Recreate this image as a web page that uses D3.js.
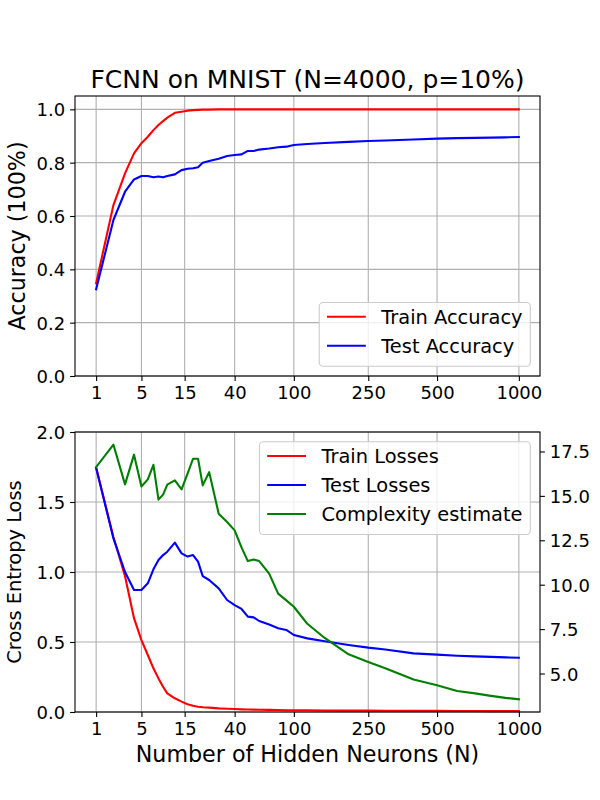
<!DOCTYPE html>
<html>

<head>
    <meta charset="UTF-8">
    <title>FCNN on MNIST</title>
    <script src="https://cdnjs.cloudflare.com/ajax/libs/d3/7.8.5/d3.min.js"></script>
    <style>
        body {
            margin: 0;
            background: #fff;
        }

        svg text {
            font-family: "DejaVu Sans", sans-serif;
            fill: #000;
        }
    </style>
</head>

<body>

    <svg id="chart"></svg>

    <script>

        // hidden neurons used in the sweep
        var neurons = [1, 2, 3, 4, 5, 6, 7, 8, 9, 10, 12, 14, 16, 18, 20, 22, 25, 30, 35, 40,
            45, 50, 55, 60, 70, 80, 90, 100, 120, 150, 200, 250, 300, 400, 500, 600, 700, 800, 900, 1000]

        var trainAcc = [0.348, 0.641, 0.760, 0.835, 0.873, 0.897, 0.922, 0.941, 0.956, 0.969,
            0.987, 0.991, 0.995, 0.997, 0.998, 0.999, 0.999, 1.0, 1.0, 1.0,
            1.0, 1.0, 1.0, 1.0, 1.0, 1.0, 1.0, 1.0, 1.0, 1.0,
            1.0, 1.0, 1.0, 1.0, 1.0, 1.0, 1.0, 1.0, 1.0, 1.0]

        var testAcc = [0.325, 0.585, 0.691, 0.737, 0.750, 0.750, 0.745, 0.748, 0.745, 0.750,
            0.756, 0.772, 0.777, 0.779, 0.783, 0.800, 0.806, 0.815, 0.825, 0.829,
            0.831, 0.844, 0.844, 0.849, 0.853, 0.858, 0.860, 0.866, 0.870, 0.874,
            0.878, 0.881, 0.883, 0.887, 0.890, 0.892, 0.893, 0.894, 0.895, 0.896]

        var trainLoss = [1.745, 1.25, 0.97, 0.67, 0.514, 0.407, 0.312, 0.24, 0.18, 0.133,
            0.098, 0.074, 0.055, 0.045, 0.038, 0.034, 0.031, 0.026, 0.023, 0.021,
            0.019, 0.018, 0.017, 0.016, 0.015, 0.014, 0.013, 0.013, 0.012, 0.011,
            0.010, 0.010, 0.009, 0.008, 0.008, 0.007, 0.007, 0.006, 0.006, 0.006]

        var testLoss = [1.745, 1.24, 1.0, 0.871, 0.871, 0.919, 1.019, 1.086, 1.121, 1.145,
            1.21, 1.133, 1.11, 1.121, 1.074, 0.971, 0.943, 0.883, 0.80, 0.764,
            0.736, 0.681, 0.676, 0.65, 0.625, 0.598, 0.586, 0.55, 0.526, 0.505,
            0.479, 0.46, 0.447, 0.419, 0.41, 0.402, 0.397, 0.394, 0.39, 0.388]

        var complexity = [16.62, 17.88, 15.65, 17.32, 15.53, 15.93, 16.75, 14.79, 15.07, 15.63,
            15.87, 15.36, 16.25, 17.09, 17.09, 15.59, 16.34, 14.0, 13.53, 13.06,
            12.1, 11.33, 11.42, 11.33, 10.62, 9.5, 9.12, 8.76, 7.8, 7.0,
            6.08, 5.65, 5.3, 4.66, 4.34, 4.02, 3.88, 3.74, 3.63, 3.55]

        var xTicks = [1, 5, 15, 40, 100, 250, 500, 1000]
        var accTicks = [0.0, 0.2, 0.4, 0.6, 0.8, 1.0]
        var lossTicks = [0.0, 0.5, 1.0, 1.5, 2.0]
        var complexityTicks = [5.0, 7.5, 10.0, 12.5, 15.0, 17.5]

        var svgWidth = 600,
            svgHeight = 800;
        var left = 75, right = 540;
        var topPanel = { top: 96, bottom: 376 };
        var botPanel = { top: 432, bottom: 712 };
        var tickSize = 4.9, tickPad = 4.9;
        var grid = "#b0b0b0";

        var svg = d3.select("#chart")
            .attr("width", svgWidth)
            .attr("height", svgHeight);

        // x axis is a fourth-root scale, padded 5% in transformed space like matplotlib
        var expo = 0.25
        var t0 = Math.pow(neurons[0], expo), t1 = Math.pow(neurons[neurons.length - 1], expo)
        var pad = (t1 - t0) * 0.05
        var x = d3.scalePow().exponent(expo)
            .domain([Math.pow(t0 - pad, 1 / expo), Math.pow(t1 + pad, 1 / expo)])
            .range([left, right]);

        var yAcc = d3.scaleLinear().domain([0, 1.05]).range([topPanel.bottom, topPanel.top]);
        var yLoss = d3.scaleLinear().domain([0, 2]).range([botPanel.bottom, botPanel.top]);
        var cExt = d3.extent(complexity), cPad = (cExt[1] - cExt[0]) * 0.05
        var yComp = d3.scaleLinear().domain([cExt[0] - cPad, cExt[1] + cPad])
            .range([botPanel.bottom, botPanel.top]);

        function drawGrid(panel, yScale, yTicks) {
            var g = svg.append("g")
            g.selectAll(".gx").data(xTicks).enter().append("line")
                .attr("x1", d => x(d)).attr("x2", d => x(d))
                .attr("y1", panel.top).attr("y2", panel.bottom)
                .attr("stroke", grid).attr("stroke-width", 1.1)
            g.selectAll(".gy").data(yTicks).enter().append("line")
                .attr("x1", left).attr("x2", right)
                .attr("y1", d => yScale(d)).attr("y2", d => yScale(d))
                .attr("stroke", grid).attr("stroke-width", 1.1)
        }

        function drawAxes(panel, yScale, yTicks) {
            var xAxis = d3.axisBottom(x).tickValues(xTicks).tickFormat(d3.format("d"))
                .tickSize(tickSize).tickPadding(tickPad)
            var gx = svg.append("g")
                .attr("transform", "translate(0," + panel.bottom + ")")
                .call(xAxis)
            var yAxis = d3.axisLeft(yScale).tickValues(yTicks).tickFormat(d3.format(".1f"))
                .tickSize(tickSize).tickPadding(tickPad)
            var gy = svg.append("g")
                .attr("transform", "translate(" + left + ",0)")
                .call(yAxis)
            ;[gx, gy].forEach(function (g) {
                g.select(".domain").remove()
                g.selectAll(".tick line").attr("stroke", "#000").attr("stroke-width", 1.1)
                g.selectAll(".tick text").attr("font-size", "18px")
                    .style("font-family", "'DejaVu Sans', sans-serif")
            })
            gx.selectAll(".tick text").attr("dy", "0.76em")
            gy.selectAll(".tick text").attr("dy", "0.36em")
        }

        function drawFrame(panel) {
            svg.append("rect")
                .attr("x", left).attr("y", panel.top)
                .attr("width", right - left).attr("height", panel.bottom - panel.top)
                .attr("fill", "none").attr("stroke", "#000").attr("stroke-width", 1.1)
        }

        function drawLine(values, yScale, color) {
            var line = d3.line()
                .x(function (d, i) { return x(neurons[i]) })
                .y(function (d) { return yScale(d) })
            svg.append("path")
                .datum(values)
                .attr("fill", "none")
                .attr("stroke", color)
                .attr("stroke-width", 2.1)
                .attr("stroke-linejoin", "round")
                .attr("stroke-linecap", "square")
                .attr("d", line)
        }

        // matplotlib-like legend anchored at a corner of the axes
        function drawLegend(items, anchorRight, anchorY, fromTop) {
            var fs = 19.4, bp = 0.4 * fs, hl = 2 * fs, htp = 0.8 * fs, ls = 0.5 * fs, rowH = 19.3
            var g = svg.append("g")
            var box = g.append("rect")
            var texts = g.selectAll("text").data(items).enter().append("text")
                .attr("font-size", fs + "px")
                .text(d => d.label)
            var tw = d3.max(texts.nodes(), n => n.getComputedTextLength())
            var w = 2 * bp + hl + htp + tw
            var h = 2 * bp + items.length * rowH + (items.length - 1) * ls
            var bx = anchorRight - w
            var by = fromTop ? anchorY : anchorY - h
            // handle sits at the middle of the capitals, a little above the row centre
            var rowY = i => by + bp + 6.5 + i * (rowH + ls)
            box.attr("x", bx).attr("y", by).attr("width", w).attr("height", h)
                .attr("rx", 4).attr("ry", 4)
                .attr("fill", "#fff").attr("fill-opacity", 0.8)
                .attr("stroke", "#cccccc").attr("stroke-width", 1.1)
            items.forEach(function (d, i) {
                g.append("line")
                    .attr("x1", bx + bp).attr("x2", bx + bp + hl)
                    .attr("y1", rowY(i)).attr("y2", rowY(i))
                    .attr("stroke", d.color).attr("stroke-width", 2.1)
            })
            texts.attr("x", bx + bp + hl + htp)
                .attr("y", (d, i) => rowY(i))
                .attr("dy", "0.36em")
            texts.raise()
        }

        // top panel: accuracy
        drawGrid(topPanel, yAcc, accTicks)
        drawLine(trainAcc, yAcc, "red")
        drawLine(testAcc, yAcc, "blue")
        drawAxes(topPanel, yAcc, accTicks)
        drawFrame(topPanel)

        svg.append("text")
            .attr("x", (left + right) / 2).attr("y", 88)
            .attr("text-anchor", "middle").attr("font-size", "25px")
            .text("FCNN on MNIST (N=4000, p=10%)")

        svg.append("text")
            .attr("transform", "translate(25," + (topPanel.top + topPanel.bottom) / 2 + ") rotate(-90)")
            .attr("text-anchor", "middle").attr("font-size", "22.2px")
            .text("Accuracy (100%)")

        drawLegend([
            { label: "Train Accuracy", color: "red" },
            { label: "Test Accuracy", color: "blue" }
        ], right - 9.7, topPanel.bottom - 9.7, false)

        // bottom panel: losses and complexity on a twin axis
        drawGrid(botPanel, yLoss, lossTicks)
        drawLine(trainLoss, yLoss, "red")
        drawLine(testLoss, yLoss, "blue")
        drawLine(complexity, yComp, "green")
        drawAxes(botPanel, yLoss, lossTicks)

        var gr = svg.append("g")
            .attr("transform", "translate(" + right + ",0)")
            .call(d3.axisRight(yComp).tickValues(complexityTicks).tickFormat(d3.format(".1f"))
                .tickSize(tickSize).tickPadding(tickPad))
        gr.select(".domain").remove()
        gr.selectAll(".tick line").attr("stroke", "#000").attr("stroke-width", 1.1)
        gr.selectAll(".tick text").attr("font-size", "18px").attr("dy", "0.36em")
            .style("font-family", "'DejaVu Sans', sans-serif")

        drawFrame(botPanel)

        svg.append("text")
            .attr("transform", "translate(21," + (botPanel.top + botPanel.bottom) / 2 + ") rotate(-90)")
            .attr("text-anchor", "middle").attr("font-size", "19.4px")
            .text("Cross Entropy Loss")

        svg.append("text")
            .attr("x", (left + right) / 2).attr("y", 762)
            .attr("text-anchor", "middle").attr("font-size", "22.2px")
            .text("Number of Hidden Neurons (N)")

        drawLegend([
            { label: "Train Losses", color: "red" },
            { label: "Test Losses", color: "blue" },
            { label: "Complexity estimate", color: "green" }
        ], right - 9.7, botPanel.top + 9.7, true)

    </script>

</body>

</html>
